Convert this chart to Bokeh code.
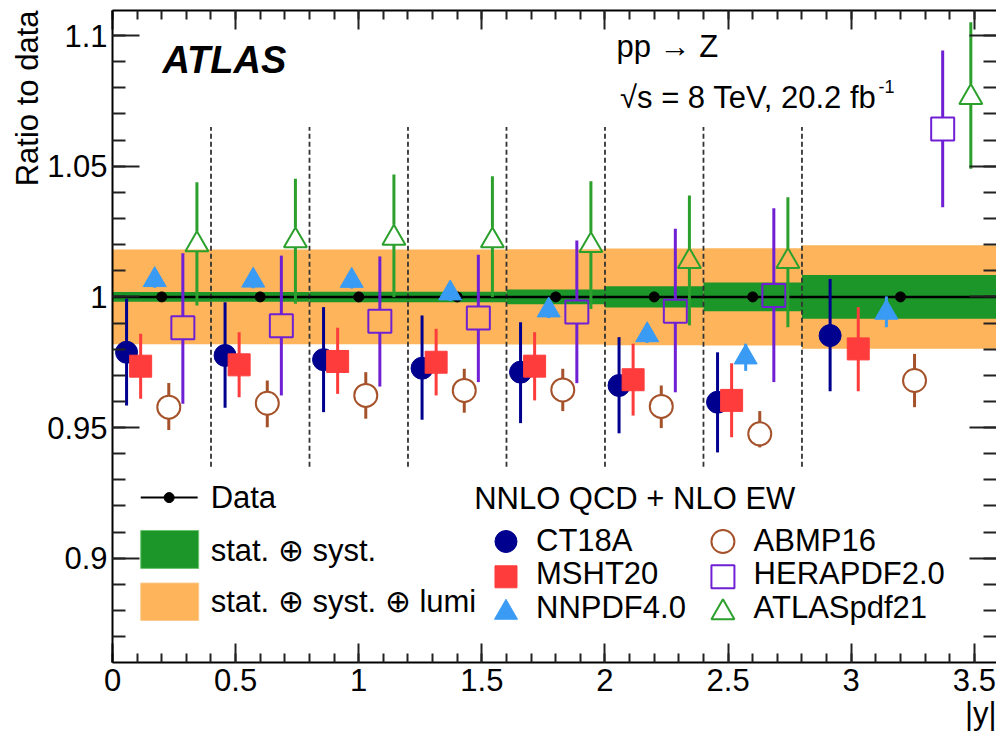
import math
from bokeh.plotting import figure
from bokeh.models import Label, LinearAxis, FixedTicker, CustomJSTickFormatter, Range1d, Title
from bokeh.embed import file_html
from bokeh.resources import INLINE

FONT = "Liberation Sans"
FS_PX = 31
FS = f"{FS_PX}px"

# ---------------- data ----------------
bin_lo = [0.0, 0.4, 0.8, 1.2, 1.6, 2.0, 2.4, 2.8]
bin_hi = [0.4, 0.8, 1.2, 1.6, 2.0, 2.4, 2.8, 3.6]
data_ratio = [1.0, 1.0, 1.0, 1.0, 1.0, 1.0, 1.0, 1.0]
unc_stat_syst = [0.0019, 0.0019, 0.0020, 0.0020, 0.0028, 0.0041, 0.0055, 0.0084]
unc_total = [0.0181, 0.0181, 0.0181, 0.0181, 0.0182, 0.0185, 0.0186, 0.0198]

ct18a = [0.9788, 0.9776, 0.9760, 0.9727, 0.9712, 0.9661, 0.9597, 0.9852]
ct18a_hi = [0.9993, 0.9980, 0.9961, 0.9929, 0.9903, 0.9846, 0.9788, 1.0069]
ct18a_lo = [0.9584, 0.9576, 0.9559, 0.9530, 0.9517, 0.9478, 0.9405, 0.9639]

msht20 = [0.9735, 0.9740, 0.9753, 0.9750, 0.9735, 0.9683, 0.9604, 0.9801]
msht20_hi = [0.9859, 0.9865, 0.9882, 0.9878, 0.9865, 0.9821, 0.9746, 0.9961]
msht20_lo = [0.9610, 0.9616, 0.9629, 0.9623, 0.9604, 0.9546, 0.9463, 0.9639]

nnpdf40 = [1.0065, 1.0063, 1.0062, 1.0014, 0.9949, 0.9854, 0.9769, 0.9940]
nnpdf40_hi = [1.0095, 1.0093, 1.0092, 1.0044, 0.9979, 0.9884, 0.9821, 1.0002]
nnpdf40_lo = [1.0035, 1.0033, 1.0032, 0.9984, 0.9919, 0.9824, 0.9717, 0.9884]

abmp16 = [0.9578, 0.9593, 0.9623, 0.9642, 0.9644, 0.9581, 0.9476, 0.9680]
abmp16_hi = [0.9671, 0.9680, 0.9712, 0.9725, 0.9725, 0.9661, 0.9563, 0.9782]
abmp16_lo = [0.9491, 0.9501, 0.9534, 0.9557, 0.9563, 0.9498, 0.9424, 0.9578]

herapdf20 = [0.9882, 0.9890, 0.9907, 0.9919, 0.9942, 0.9945, 1.0005, 1.0643]
herapdf20_hi = [1.0167, 1.0158, 1.0155, 1.0161, 1.0216, 1.0261, 1.0339, 1.0943]
herapdf20_lo = [0.9591, 0.9623, 0.9657, 0.9674, 0.9670, 0.9635, 0.9674, 1.0343]

atlaspdf21 = [1.0200, 1.0215, 1.0225, 1.0215, 1.0197, 1.0136, 1.0136, 1.0764]
atlaspdf21_hi = [1.0439, 1.0452, 1.0468, 1.0462, 1.0443, 1.0388, 1.0381, 1.1051]
atlaspdf21_lo = [0.9967, 0.9974, 0.9999, 0.9999, 0.9954, 0.9891, 0.9884, 1.0490]

pdf_names = ["CT18A", "MSHT20", "NNPDF4.0", "ABMP16", "HERAPDF2.0", "ATLASpdf21"]
pdf_vals = [ct18a, msht20, nnpdf40, abmp16, herapdf20, atlaspdf21]
pdf_hi = [ct18a_hi, msht20_hi, nnpdf40_hi, abmp16_hi, herapdf20_hi, atlaspdf21_hi]
pdf_lo = [ct18a_lo, msht20_lo, nnpdf40_lo, abmp16_lo, herapdf20_lo, atlaspdf21_lo]

x_ticks = [0.0, 0.5, 1.0, 1.5, 2.0, 2.5, 3.0, 3.5]
x_minor = [round(0.1 * i, 2) for i in range(0, 37)]
y_ticks = [0.9, 0.95, 1.0, 1.05, 1.1]
y_minor = [round(0.86 + 0.01 * i, 2) for i in range(0, 26)]

# ---------------- styles ----------------
pdf_marker = ["circle", "square", "triangle", "circle", "square", "triangle"]
pdf_color = ["#00008f", "#ff3c3c", "#3a9bf4", "#a5522a", "#7020d4", "#2ca02c"]
pdf_filled = [True, True, True, False, False, False]
pdf_size = [22, 22, 23, 23, 23, 23]
col_green = "#1c9628"
col_orange = "#fdb45a"

X0, X1 = 0.0, 3.59
Y0, Y1 = 0.8601, 1.1096
W, H = 996, 746
MB_L, MB_R, MB_T, MB_B = 112, 0, 10, 84
px_per_y = (H - MB_T - MB_B) / (Y1 - Y0)

p = figure(width=W, height=H, x_range=Range1d(X0, X1), y_range=Range1d(Y0, Y1),
           output_backend="svg", toolbar_location=None,
           min_border_left=MB_L, min_border_right=MB_R, min_border_top=MB_T,
           min_border_bottom=MB_B)
p.xgrid.visible = False
p.ygrid.visible = False
p.outline_line_color = None
p.background_fill_color = "white"
p.border_fill_color = "white"

fmt = CustomJSTickFormatter(code="return String(Math.round(tick*1000)/1000);")

def style_axis(ax, ticks, minor, tin, tmin):
    ax.ticker = FixedTicker(ticks=ticks, minor_ticks=minor)
    ax.major_tick_in = tin
    ax.major_tick_out = 0
    ax.minor_tick_in = tmin
    ax.minor_tick_out = 0
    ax.axis_line_width = 2
    ax.axis_line_color = "black"
    ax.major_tick_line_width = 2
    ax.minor_tick_line_width = 2
    ax.major_tick_line_color = "#222222"
    ax.minor_tick_line_color = "#222222"
    ax.formatter = fmt
    ax.major_label_text_font = FONT
    ax.major_label_text_font_size = FS
    ax.major_label_text_color = "black"

style_axis(p.xaxis[0], x_ticks, x_minor, 19, 9)
p.xaxis[0].major_label_standoff = 6
style_axis(p.yaxis[0], y_ticks, y_minor, 27, 13)
p.yaxis[0].major_label_standoff = 5

# label-free tick axes on the top and right edges (ticks only, pointing inwards)
def tick_axis(side, positions, length, line):
    ax = LinearAxis(ticker=FixedTicker(ticks=[], minor_ticks=positions),
                    major_tick_in=0, major_tick_out=0,
                    minor_tick_in=length, minor_tick_out=0,
                    major_label_standoff=0,
                    minor_tick_line_width=2, minor_tick_line_color="#222222",
                    axis_line_width=2, axis_line_color="black" if line else None)
    p.add_layout(ax, side)

tick_axis("above", x_minor, 9, True)
tick_axis("above", x_ticks, 19, False)
tick_axis("right", y_minor, 13, False)
tick_axis("right", y_ticks, 27, False)

# axis titles (ROOT style: placed at the axis ends)
p.add_layout(Title(text="Ratio to data", align="right", text_font=FONT, text_font_size=FS,
                   text_font_style="normal", text_color="black", standoff=0, offset=0), "left")
p.add_layout(Title(text="|y|", align="right", text_font=FONT, text_font_size=FS,
                   text_font_style="normal", text_color="black", standoff=0, offset=0), "below")

# ---------------- bands ----------------
p.quad(left=bin_lo, right=bin_hi,
       bottom=[d - u for d, u in zip(data_ratio, unc_total)],
       top=[d + u for d, u in zip(data_ratio, unc_total)],
       fill_color=col_orange, line_color=None)
p.quad(left=bin_lo, right=bin_hi,
       bottom=[d - u for d, u in zip(data_ratio, unc_stat_syst)],
       top=[d + u for d, u in zip(data_ratio, unc_stat_syst)],
       fill_color=col_green, line_color=None)

# bin separators
edges = bin_hi[:-1]
p.segment(x0=edges, y0=[0.935] * len(edges), x1=edges, y1=[1.065] * len(edges),
          line_color="#333333", line_width=1.8, line_dash="5 3")

# data
centers = [(a + b) / 2 for a, b in zip(bin_lo, bin_hi)]
p.segment(x0=bin_lo, y0=data_ratio, x1=bin_hi, y1=data_ratio, line_color="black", line_width=2.5)
p.scatter(centers, data_ratio, marker="circle", size=10, color="black")

# ---------------- predictions ----------------
def marker_gaps(marker, size):
    if marker == "triangle":
        h = size * math.sqrt(3) / 2
        return 2 * h / 3, h / 3
    return size / 2, size / 2

for k in range(len(pdf_names)):
    xs = [l + (k + 1) * (h - l) / 7 for l, h in zip(bin_lo, bin_hi)]
    c = pdf_color[k]
    if pdf_filled[k]:
        p.segment(x0=xs, y0=pdf_lo[k], x1=xs, y1=pdf_hi[k], line_color=c, line_width=3)
        p.scatter(xs, pdf_vals[k], marker=pdf_marker[k], size=pdf_size[k],
                  fill_color=c, line_color=c)
    else:
        gu, gd = marker_gaps(pdf_marker[k], pdf_size[k])
        up0 = [v + gu / px_per_y for v in pdf_vals[k]]
        dn1 = [v - gd / px_per_y for v in pdf_vals[k]]
        p.segment(x0=xs, y0=up0, x1=xs, y1=[max(a, b) for a, b in zip(pdf_hi[k], up0)],
                  line_color=c, line_width=3)
        p.segment(x0=xs, y0=[min(a, b) for a, b in zip(pdf_lo[k], dn1)], x1=xs, y1=dn1,
                  line_color=c, line_width=3)
        p.scatter(xs, pdf_vals[k], marker=pdf_marker[k], size=pdf_size[k],
                  fill_color=None, line_color=c, line_width=2)

# ---------------- legends (manual) ----------------
def label(x, y, text, size_px=FS_PX, **kw):
    # small upward correction of the text baseline (in pixels -> data units)
    y_adj = y + 0.32 * size_px / px_per_y
    lab = Label(x=x, y=y_adj, text=text, text_font=FONT, text_font_size=f"{size_px}px",
                text_color="black", text_baseline="alphabetic", text_align="left", **kw)
    p.add_layout(lab)

# left legend
p.segment(x0=[0.1147], y0=[0.9232], x1=[0.3458], y1=[0.9232], line_color="black", line_width=2)
p.scatter([0.230], [0.9232], marker="circle", size=10, color="black")
label(0.3985, 0.9195, "Data")
p.quad(left=[0.1147], right=[0.3499], bottom=[0.8961], top=[0.9106],
       fill_color=col_green, line_color="#6cc46f", line_width=1)
label(0.3985, 0.8991, "stat. \u2295 syst.")
p.quad(left=[0.1147], right=[0.3499], bottom=[0.8762], top=[0.8905],
       fill_color=col_orange, line_color="#fbc98a", line_width=1)
label(0.3985, 0.8797, "stat. \u2295 syst. \u2295 lumi")

# right legend
label(1.4686, 0.9192, "NNLO QCD + NLO EW")
leg_mx = [1.598, 1.598, 1.598, 2.479, 2.479, 2.479]
leg_tx = [1.720, 1.720, 1.720, 2.6036, 2.6036, 2.6036]
leg_my = [0.9064, 0.8929, 0.8792, 0.9064, 0.8929, 0.8792]
leg_ty = [0.9030, 0.8903, 0.8773, 0.9030, 0.8903, 0.8773]
for k in range(len(pdf_names)):
    c = pdf_color[k]
    if pdf_filled[k]:
        p.scatter([leg_mx[k]], [leg_my[k]], marker=pdf_marker[k], size=pdf_size[k],
                  fill_color=c, line_color=c)
    else:
        p.scatter([leg_mx[k]], [leg_my[k]], marker=pdf_marker[k], size=pdf_size[k],
                  fill_color=None, line_color=c, line_width=2)
    label(leg_tx[k], leg_ty[k], pdf_names[k])

# ---------------- texts ----------------
label(0.2027, 1.0859, "ATLAS", size_px=38, text_font_style="bold italic")
label(2.047, 1.0921, "pp \u2192 Z")
label(2.061, 1.0726, "\u221as = 8 TeV, 20.2 fb")
label(3.111, 1.0783, "-1", size_px=18)

open("out.html", "w").write(file_html(p, INLINE))
